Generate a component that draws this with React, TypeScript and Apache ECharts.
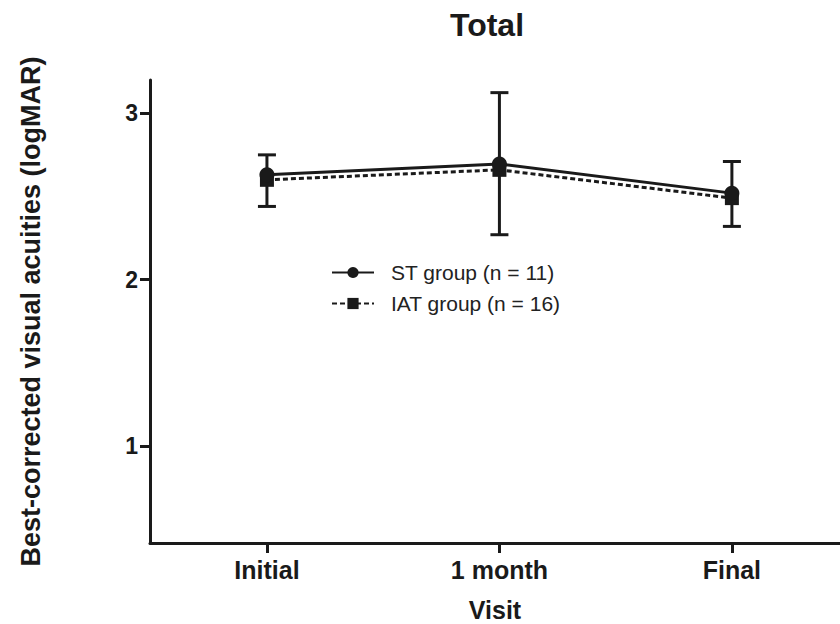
import React, { useEffect, useRef } from "react";
import * as echarts from "echarts";

const categories = ["Initial", "1 month", "Final"];
const stGroup = [2.63, 2.695, 2.52];
const iatGroup = [2.6, 2.66, 2.49];
const errLow = [2.44, 2.27, 2.32];
const errHigh = [2.75, 3.124, 2.71];
const yTicks = [1, 2, 3];

export default function App() {
  const ref = useRef<HTMLDivElement>(null);
  useEffect(() => {
    if (!ref.current) return;
    const chart = echarts.init(ref.current, null, { renderer: "svg" });
    const font = "Liberation Sans, Arial, sans-serif";
    const ink = "#1a1a1a";
    const idx = categories.map((_, i) => i);
    chart.setOption({
      animation: false,
      backgroundColor: "#fff",
      title: {
        text: "Total",
        left: 482,
        top: 4,
        textAlign: "center",
        textStyle: { fontFamily: font, fontWeight: "bold", fontSize: 32, color: ink },
      },
      legend: {
        left: 326,
        top: 257,
        orient: "vertical",
        itemWidth: 42,
        itemHeight: 14,
        itemGap: 10,
        textStyle: { fontFamily: font, fontSize: 21, color: "#222", padding: [0, 0, 0, 12] },
        data: ["ST group (n = 11)", "IAT group (n = 16)"],
      },
      grid: { left: 150, right: 0, top: 80, bottom: 81, containLabel: false, outerBoundsMode: "none" },
      xAxis: {
        type: "value",
        min: -0.503,
        max: 2.465,
        name: "Visit",
        nameLocation: "middle",
        nameGap: 54,
        nameTextStyle: { fontFamily: font, fontWeight: "bold", fontSize: 25, lineHeight: 25, color: ink },
        axisLine: { show: true, onZero: false, lineStyle: { color: ink, width: 3 } },
        axisTick: { show: true, length: 10, customValues: idx, lineStyle: { color: ink, width: 3 } },
        axisLabel: {
          customValues: idx,
          margin: 14,
          fontFamily: font,
          fontWeight: "bold",
          fontSize: 25,
          color: ink,
          formatter: (v: number) => categories[Math.round(v)] ?? "",
        },
        splitLine: { show: false },
      },
      yAxis: {
        type: "value",
        min: 0.417,
        max: 3.2,
        name: "Best-corrected visual acuities (logMAR)",
        nameLocation: "middle",
        nameGap: 106,
        nameTextStyle: { fontFamily: font, fontWeight: "bold", fontSize: 27, color: ink },
        axisLine: { show: true, onZero: false, lineStyle: { color: ink, width: 3 } },
        axisTick: { show: true, length: 10, customValues: yTicks, lineStyle: { color: ink, width: 3 } },
        axisLabel: {
          customValues: yTicks,
          margin: 12,
          fontFamily: font,
          fontWeight: "bold",
          fontSize: 23,
          color: ink,
        },
        splitLine: { show: false },
      },
      series: [
        {
          type: "custom",
          name: "err",
          silent: true,
          z: 1,
          data: idx.map((i) => [i, errLow[i], errHigh[i]]),
          renderItem: (params: any, api: any) => {
            const x = api.value(0);
            const lo = api.coord([x, api.value(1)]);
            const hi = api.coord([x, api.value(2)]);
            const hw = 9;
            const style = { stroke: ink, lineWidth: 3 };
            return {
              type: "group",
              children: [
                { type: "line", shape: { x1: lo[0], y1: lo[1], x2: hi[0], y2: hi[1] }, style },
                { type: "line", shape: { x1: lo[0] - hw, y1: lo[1], x2: lo[0] + hw, y2: lo[1] }, style },
                { type: "line", shape: { x1: hi[0] - hw, y1: hi[1], x2: hi[0] + hw, y2: hi[1] }, style },
              ],
            };
          },
        },
        {
          type: "line",
          name: "ST group (n = 11)",
          data: idx.map((i) => [i, stGroup[i]]),
          symbol: "circle",
          symbolSize: 15,
          z: 3,
          lineStyle: { color: ink, width: 3 },
          itemStyle: { color: ink },
        },
        {
          type: "line",
          name: "IAT group (n = 16)",
          data: idx.map((i) => [i, iatGroup[i]]),
          symbol: "rect",
          symbolSize: 14,
          z: 2,
          lineStyle: { color: ink, width: 3, type: [5, 3] },
          itemStyle: { color: ink },
        },
      ],
    });
    return () => chart.dispose();
  }, []);
  return <div ref={ref} style={{ width: 840, height: 624, position: "absolute", left: 0, top: 0 }} />;
}
